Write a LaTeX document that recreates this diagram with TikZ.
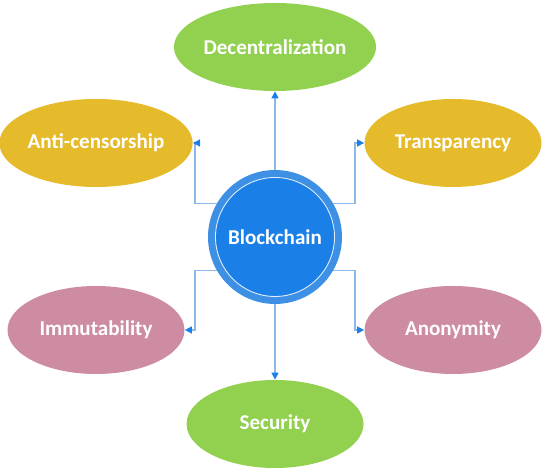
\documentclass[tikz,border=0pt]{standalone}
\usepackage{fontspec}
\setmainfont{Carlito}
\usetikzlibrary{shapes.geometric,arrows.meta}
\definecolor{leafgreen}{HTML}{92D050}
\definecolor{goldish}{HTML}{E5BB2C}
\definecolor{rosepink}{HTML}{CD8CA1}
\definecolor{ringblue}{HTML}{3D90E3}
\definecolor{coreblue}{HTML}{1A80E8}
\definecolor{linkblue}{HTML}{8DB8EA}
\tikzset{
  feature/.style={ellipse,minimum width=3.54cm,minimum height=1.76cm,inner sep=0pt,
    text=white,font=\fontsize{12}{14}\selectfont\bfseries},
  link/.style={draw=linkblue,line width=0.6pt,-{Triangle[length=4pt,width=4pt,color=coreblue]}}
}
\begin{document}
\begin{tikzpicture}
                \useasboundingbox (0,0) rectangle (11,9.48);
                \node[circle,fill=ringblue,minimum size=2.68cm,outer sep=0pt] (blk) at (5.5,4.74) {};
                \node[circle,fill=coreblue,draw=white!85!ringblue,line width=0.5pt,minimum size=2.38cm,
                  text=white,font=\fontsize{12}{14}\selectfont\bfseries] (core) at (blk) {Blockchain};
                \node[feature,fill=leafgreen] (dec) at (5.5,8.54) {Decentralization};
                \node[feature,fill=goldish] (anti) at (1.92,6.62) {Anti-censorship};
                \node[feature,fill=goldish] (trans) at (9.06,6.62) {Transparency};
                \node[feature,fill=rosepink] (immu) at (1.92,2.88) {Immutability};
                \node[feature,fill=rosepink] (anon) at (9.06,2.88) {Anonymity};
                \node[feature,fill=leafgreen] (sec) at (5.5,1.0) {Security};
                \coordinate (k1) at (3.9,5.41);
                \coordinate (k2) at (7.1,5.41);
                \coordinate (k3) at (3.9,4.07);
                \coordinate (k4) at (7.1,4.07);
                \draw[link] (blk.north) -- (dec.south);
                \draw[link] (blk.south) -- (sec.north);
                \draw[link] (k1 -| blk.150) -- (k1) |- (anti.east);
                \draw[link] (k2 -| blk.30) -- (k2) |- (trans.west);
                \draw[link] (k3 -| blk.210) -- (k3) |- (immu.east);
                \draw[link] (k4 -| blk.330) -- (k4) |- (anon.west);
            \end{tikzpicture}
\end{document}
